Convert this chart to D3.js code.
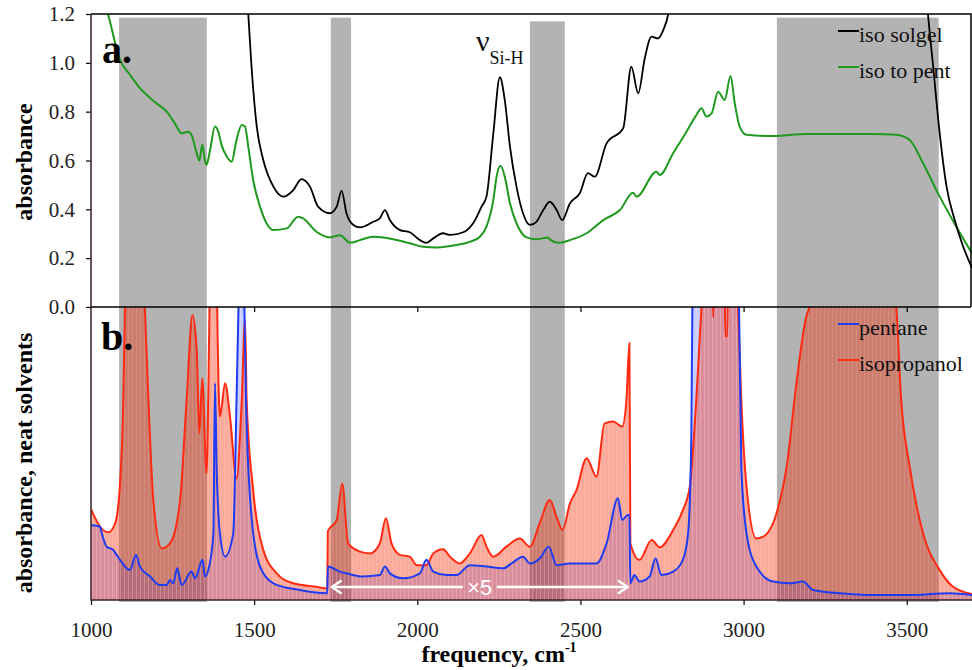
<!DOCTYPE html>
<html>
<head>
<meta charset="utf-8">
<script src="https://cdn.jsdelivr.net/npm/d3@7"></script>
<style>
  body { margin: 0; background: #fff; }
  svg { display: block; }
  .tick line { stroke: #000; stroke-width: 1.2; }
</style>
</head>
<body>
<svg id="chart" width="972" height="670"></svg>
<script>
// spectra: [frequency cm-1, absorbance]
const isoSolgel = [
  [1000,3.0],[1400,2.0],[1470,1.45],[1482,1.2],[1492,0.984],[1508,0.739],[1528,0.602],[1559,0.493],
  [1589,0.452],[1620,0.479],[1645,0.524],[1671,0.493],[1696,0.411],[1732,0.384],[1753,0.411],[1768,0.476],
  [1783,0.384],[1804,0.336],[1824,0.326],[1865,0.349],[1885,0.363],[1901,0.397],[1916,0.356],[1947,0.315],
  [1977,0.306],[2008,0.274],[2028,0.263],[2049,0.281],[2079,0.302],[2100,0.295],[2141,0.306],[2171,0.343],
  [2197,0.411],[2212,0.452],[2233,0.711],[2253,0.941],[2268,0.848],[2284,0.657],[2304,0.493],[2324,0.384],
  [2345,0.336],[2365,0.349],[2386,0.397],[2406,0.431],[2427,0.397],[2444,0.356],[2468,0.425],[2498,0.466],
  [2523,0.548],[2544,0.534],[2580,0.67],[2631,0.732],[2656,0.984],[2677,0.875],[2697,1.018],[2718,1.107],
  [2738,1.10],[2754,1.135],[2769,1.2],[2790,1.45],[3000,1.9],[3400,1.9],[3550,1.45],[3565,1.2],
  [3581,0.984],[3601,0.711],[3622,0.493],[3647,0.356],[3673,0.247],[3700,0.16]
]
const isoToPent = [
  [1000,1.45],[1030,1.3],[1052,1.2],[1089,1.012],[1120,0.95],[1150,0.896],[1201,0.834],[1232,0.80],
  [1257,0.752],[1278,0.711],[1298,0.718],[1308,0.705],[1324,0.63],[1332,0.60],[1341,0.664],[1349,0.602],
  [1354,0.582],[1365,0.643],[1380,0.739],[1390,0.718],[1400,0.664],[1416,0.616],[1431,0.595],[1446,0.684],
  [1462,0.745],[1472,0.739],[1482,0.657],[1497,0.52],[1518,0.411],[1538,0.343],[1559,0.315],[1600,0.322],
  [1635,0.37],[1650,0.363],[1691,0.308],[1732,0.285],[1763,0.294],[1794,0.263],[1824,0.274],[1865,0.288],
  [1896,0.285],[1937,0.274],[1977,0.261],[2018,0.247],[2059,0.244],[2120,0.254],[2161,0.267],[2192,0.288],
  [2212,0.329],[2233,0.438],[2243,0.534],[2255,0.578],[2268,0.534],[2284,0.425],[2304,0.343],[2335,0.285],
  [2365,0.277],[2401,0.285],[2406,0.277],[2432,0.263],[2468,0.274],[2519,0.302],[2570,0.356],[2621,0.397],
  [2661,0.468],[2672,0.452],[2733,0.554],[2743,0.541],[2784,0.63],[2825,0.718],[2855,0.786],[2871,0.814],
  [2886,0.78],[2902,0.793],[2922,0.882],[2942,0.848],[2960,0.946],[2973,0.834],[2988,0.739],[3009,0.705],
  [3090,0.70],[3192,0.709],[3295,0.709],[3397,0.709],[3468,0.705],[3509,0.684],[3550,0.589],[3601,0.452],
  [3652,0.329],[3700,0.22]
]
// neat solvents, relative scale (region 1725-2650 shown x5)
const isopropanol = [
  [1000,0.31],[1028,0.25],[1053,0.231],[1074,0.262],[1089,0.398],[1099,0.683],[1104,1.0],[1115,1.4],
  [1150,1.4],[1165,1.0],[1176,0.683],[1191,0.341],[1217,0.176],[1242,0.193],[1273,0.341],[1293,0.683],
  [1311,0.973],[1324,0.853],[1332,0.569],[1341,0.757],[1354,0.432],[1362,0.9],[1366,1.2],[1384,1.2],
  [1388,0.9],[1395,0.626],[1411,0.74],[1426,0.626],[1446,0.415],[1462,0.683],[1472,0.956],[1477,0.683],
  [1497,0.375],[1528,0.171],[1569,0.091],[1620,0.057],[1691,0.045],[1724,0.04],[1726,0.235],[1753,0.273],
  [1770,0.398],[1788,0.193],[1824,0.165],[1855,0.159],[1885,0.193],[1904,0.279],[1921,0.193],[1947,0.154],
  [1977,0.148],[1998,0.119],[2028,0.119],[2049,0.159],[2079,0.173],[2100,0.148],[2130,0.125],[2161,0.159],
  [2197,0.222],[2212,0.182],[2233,0.148],[2273,0.182],[2314,0.21],[2345,0.182],[2375,0.262],[2406,0.341],
  [2427,0.284],[2445,0.239],[2468,0.33],[2488,0.375],[2519,0.484],[2549,0.421],[2574,0.603],[2600,0.609],
  [2628,0.592],[2641,0.683],[2650,0.876],[2653,0.193],[2681,0.137],[2718,0.205],[2743,0.18],[2784,0.239],
  [2814,0.307],[2835,0.387],[2855,0.683],[2871,1.0],[2885,1.2],[2903,1.2],[2907,0.965],[2911,1.2],
  [2941,1.2],[2944,0.9],[2950,0.9],[2953,1.2],[2975,1.2],[2983,1.0],[2993,0.683],[3009,0.387],
  [3039,0.21],[3060,0.216],[3101,0.296],[3132,0.455],[3162,0.74],[3192,0.967],[3202,1.0],[3250,1.5],
  [3400,1.5],[3468,1.0],[3483,0.683],[3509,0.455],[3550,0.228],[3601,0.102],[3642,0.045],[3700,0.02]
]
const pentane = [
  [1000,0.256],[1028,0.25],[1033,0.228],[1048,0.182],[1068,0.171],[1075,0.16],[1089,0.137],[1119,0.102],
  [1138,0.154],[1150,0.114],[1181,0.08],[1211,0.051],[1232,0.051],[1242,0.068],[1252,0.057],[1264,0.108],
  [1278,0.051],[1308,0.097],[1319,0.074],[1342,0.137],[1349,0.08],[1362,0.114],[1375,0.228],[1380,0.74],
  [1385,0.455],[1395,0.228],[1411,0.148],[1436,0.228],[1446,0.683],[1452,1.0],[1458,1.3],[1464,1.3],
  [1470,1.0],[1475,0.683],[1492,0.284],[1518,0.114],[1559,0.057],[1640,0.034],[1724,0.023],[1726,0.114],
  [1763,0.097],[1783,0.091],[1834,0.08],[1885,0.085],[1901,0.114],[1916,0.091],[1957,0.074],[2008,0.091],
  [2028,0.137],[2049,0.097],[2090,0.085],[2120,0.085],[2161,0.119],[2212,0.114],[2263,0.108],[2289,0.125],
  [2324,0.148],[2345,0.125],[2375,0.142],[2403,0.182],[2427,0.119],[2468,0.125],[2519,0.125],[2549,0.125],
  [2580,0.193],[2615,0.347],[2628,0.273],[2645,0.29],[2650,0.29],[2653,0.057],[2665,0.085],[2681,0.063],
  [2712,0.08],[2730,0.142],[2748,0.085],[2784,0.097],[2814,0.137],[2830,0.228],[2840,0.569],[2843,1.0],
  [2870,1.5],[2960,1.5],[2986,1.0],[2993,0.455],[3009,0.228],[3039,0.114],[3090,0.063],[3141,0.057],
  [3182,0.063],[3213,0.034],[3295,0.023],[3397,0.017],[3499,0.017],[3632,0.023],[3700,0.017]
]

// shaded solvent bands [from, to] and their top in absorbance units
const bands = [[1086,1355],[1735,1797],[2345,2452],[3102,3598]]
const bandTops = [1.185, 1.185, 1.17, 1.185]

const xTicks = [1000,1500,2000,2500,3000,3500]
const yTicks = [0,0.2,0.4,0.6,0.8,1.0,1.2]
const scaledRange = [1738, 2645]   // the "x5" arrow

const svg = d3.select("#chart")
const serif = '"Liberation Serif", "Times New Roman", serif'

const x = d3.scaleLinear().domain([1000, 3700]).range([91, 972])
const yTop = d3.scaleLinear().domain([0, 1.2]).range([307, 14])
const yBot = d3.scaleLinear().domain([0, 1]).range([600, 307])

// clip regions + faint stripe texture for the fills
const defs = svg.append("defs")
defs.append("clipPath").attr("id", "clipTop")
  .append("rect").attr("x", 91).attr("y", 14).attr("width", 881).attr("height", 293)
defs.append("clipPath").attr("id", "clipBot")
  .append("rect").attr("x", 91).attr("y", 307).attr("width", 881).attr("height", 293)
const stripes = defs.append("pattern").attr("id", "stripes")
  .attr("patternUnits", "userSpaceOnUse").attr("width", 4).attr("height", 10)
stripes.append("rect").attr("width", 1).attr("height", 10).attr("fill", "#fff").attr("fill-opacity", 0.12)

// gray bands
svg.append("g").selectAll("rect")
  .data(bands)
  .join("rect")
    .attr("x", d => x(d[0]))
    .attr("width", d => x(d[1]) - x(d[0]))
    .attr("y", (d, i) => yTop(bandTops[i]))
    .attr("height", (d, i) => 602 - yTop(bandTops[i]))
    .attr("fill", "#b3b3b3")

const areaBot = d3.area()
  .x(d => x(d[0])).y0(yBot(0)).y1(d => yBot(d[1]))
  .curve(d3.curveMonotoneX)
const lineBot = d3.line()
  .x(d => x(d[0])).y(d => yBot(d[1]))
  .curve(d3.curveMonotoneX)
const lineTop = d3.line()
  .x(d => x(d[0])).y(d => yTop(d[1]))
  .curve(d3.curveMonotoneX)

// bottom panel: fills then lines
const botPanel = svg.append("g").attr("clip-path", "url(#clipBot)")
botPanel.append("path").datum(pentane).attr("d", areaBot)
  .attr("fill", "rgb(40,60,250)").attr("fill-opacity", 0.25)
botPanel.append("path").datum(isopropanol).attr("d", areaBot)
  .attr("fill", "rgb(245,45,5)").attr("fill-opacity", 0.4)
botPanel.append("path").datum(isopropanol).attr("d", areaBot).attr("fill", "url(#stripes)")
botPanel.append("path").datum(pentane).attr("d", areaBot).attr("fill", "url(#stripes)")
botPanel.append("path").datum(isopropanol).attr("d", lineBot)
  .attr("fill", "none").attr("stroke", "#ff2a12").attr("stroke-width", 2)
botPanel.append("path").datum(pentane).attr("d", lineBot)
  .attr("fill", "none").attr("stroke", "#1f3cf2").attr("stroke-width", 2)

// top panel lines
const topPanel = svg.append("g").attr("clip-path", "url(#clipTop)")
topPanel.append("path").datum(isoToPent).attr("d", lineTop)
  .attr("fill", "none").attr("stroke", "#1f9a1f").attr("stroke-width", 2)
topPanel.append("path").datum(isoSolgel).attr("d", lineTop)
  .attr("fill", "none").attr("stroke", "#000").attr("stroke-width", 1.8)

// axes
function serifTicks(g) {
  g.select(".domain").remove()
  g.selectAll(".tick text")
    .attr("font-family", serif).attr("font-size", 21).attr("fill", "#222")
}
svg.append("g")
  .attr("transform", "translate(91,0)")
  .call(d3.axisLeft(yTop).tickValues(yTicks).tickFormat(d3.format(".1f")).tickSize(5).tickPadding(11))
  .call(serifTicks)

svg.append("g")
  .attr("transform", "translate(0,600)")
  .call(d3.axisBottom(x).tickValues(xTicks).tickFormat(d3.format("d")).tickSize(5).tickPadding(17))
  .call(serifTicks)

svg.append("g")
  .attr("transform", "translate(0,307)")
  .call(d3.axisBottom(x).tickValues(xTicks.slice(1)).tickFormat("").tickSize(5))
  .call(serifTicks)

// frame
const frame = svg.append("g").attr("stroke", "#000").attr("stroke-width", 1.5).attr("fill", "none")
frame.append("path").attr("d", "M91,14H971V307")
frame.append("path").attr("d", "M91,14V600H972").attr("stroke", "#3a2028")
frame.append("path").attr("d", "M91,307H971")

// panel letters
svg.append("text").attr("x", 102).attr("y", 63).text("a.")
  .attr("font-family", serif).attr("font-size", 40).attr("font-weight", "bold")
svg.append("text").attr("x", 101).attr("y", 350).text("b.")
  .attr("font-family", serif).attr("font-size", 40).attr("font-weight", "bold")

// axis titles
svg.append("text")
  .attr("transform", "translate(32,162) rotate(-90)")
  .attr("text-anchor", "middle")
  .attr("font-family", serif).attr("font-size", 24).attr("font-weight", "bold")
  .text("absorbance")
svg.append("text")
  .attr("transform", "translate(32,463) rotate(-90)")
  .attr("text-anchor", "middle")
  .attr("font-family", serif).attr("font-size", 24).attr("font-weight", "bold")
  .text("absorbance, neat solvents")
const xt = svg.append("text")
  .attr("x", 499).attr("y", 662)
  .attr("text-anchor", "middle")
  .attr("font-family", serif).attr("font-size", 24).attr("font-weight", "bold")
xt.append("tspan").text("frequency, cm")
xt.append("tspan").attr("font-size", 14).attr("dy", -10).text("-1")

// nu Si-H annotation
const nu = svg.append("text").attr("x", 476).attr("y", 51)
  .attr("font-family", serif).attr("fill", "#111")
nu.append("tspan").attr("font-size", 30).text("ν")
nu.append("tspan").attr("font-size", 18).attr("dy", 13).text("Si-H")

// legends
function legend(items, y0, gap) {
  const g = svg.append("g")
  items.forEach((it, i) => {
    const y = y0 + i * gap
    g.append("line").attr("x1", 838).attr("x2", 859).attr("y1", y - 11).attr("y2", y - 11)
      .attr("stroke", it.color).attr("stroke-width", 2)
    g.append("text").attr("x", 859).attr("y", y).text(it.label)
      .attr("font-family", serif).attr("font-size", 22).attr("fill", "#111")
  })
}
legend([{label: "iso solgel", color: "#000"}, {label: "iso to pent", color: "#1f9a1f"}], 42, 36)
legend([{label: "pentane", color: "#1f3cf2"}, {label: "isopropanol", color: "#ff2a12"}], 335, 36)

// x5 arrow
const ay = 587
const ax0 = x(scaledRange[0]), ax1 = x(scaledRange[1])
const xMid = (ax0 + ax1) / 2
const arrow = svg.append("g").attr("stroke", "#fff").attr("stroke-width", 2.5).attr("fill", "none")
  .attr("stroke-linecap", "round").attr("stroke-linejoin", "round")
arrow.append("path").attr("d", `M${ax0},${ay}H${xMid - 18}`)
arrow.append("path").attr("d", `M${xMid + 18},${ay}H${ax1}`)
arrow.append("path").attr("d", `M${ax0 + 9},${ay - 6}L${ax0},${ay}L${ax0 + 9},${ay + 6}`)
arrow.append("path").attr("d", `M${ax1 - 9},${ay - 6}L${ax1},${ay}L${ax1 - 9},${ay + 6}`)
svg.append("text").attr("x", xMid).attr("y", ay + 8)
  .attr("text-anchor", "middle")
  .attr("font-family", '"Liberation Sans", Arial, sans-serif').attr("font-size", 22)
  .attr("fill", "#fff").text("×5")
</script>
</body>
</html>
